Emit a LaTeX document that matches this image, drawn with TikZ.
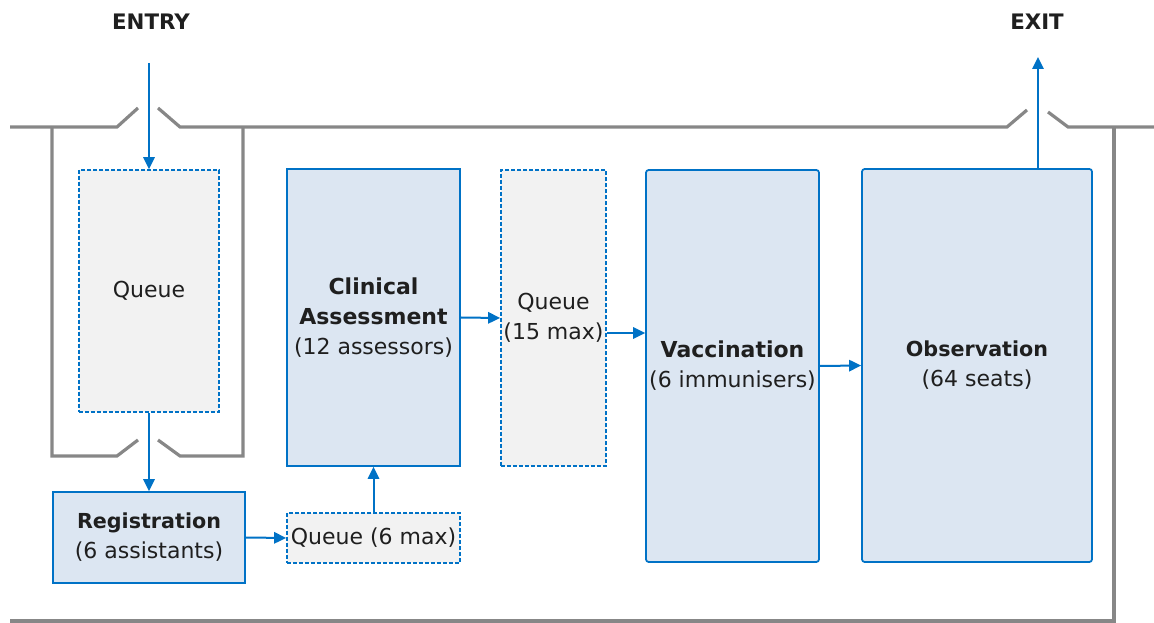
\documentclass[tikz,border=0pt]{standalone}
\usepackage{fontspec}
\setmainfont{DejaVu Sans}
\definecolor{flowblue}{RGB}{0,114,198}
\definecolor{boxfill}{RGB}{220,230,242}
\definecolor{queuefill}{RGB}{242,242,242}
\definecolor{wallgray}{RGB}{135,135,135}
\usetikzlibrary{arrows.meta,positioning}

\begin{document}
\begin{tikzpicture}[x=0.75pt,y=-0.75pt,
  room/.style={draw=flowblue,line width=1.3pt,fill=boxfill,align=center,inner sep=2pt,
              text=black!88,font=\fontsize{16.5}{22.5}\selectfont},
  queue/.style={room,fill=queuefill,dash pattern=on 3pt off 1.5pt},
  flow/.style={-{Triangle[length=9pt,width=8.5pt]},line width=1.5pt,flowblue},
  wall/.style={wallgray,line width=2.4pt},
  door/.style={font=\bfseries\fontsize{16}{18}\selectfont,text=black!88}]
  \useasboundingbox (0,0) rectangle (1154,623);

  % building outline
  \draw[wall] (10,127) -- (117,127) -- (138,108);
  \draw[wall] (158,108) -- (180,127) -- (1007,127) -- (1027,110);
  \draw[wall] (1048,112) -- (1068,127) -- (1154,127);
  \draw[wall] (1114,127) -- (1114,623);
  \draw[wall] (10,621) -- (1114,621);
  \draw[wall] (52,127) -- (52,456) -- (117,456) -- (138,440);
  \draw[wall] (158,440) -- (180,456) -- (243,456) -- (243,127);

  \node[door] (entry) at (151,22) {ENTRY};
  \node[door] (exit) at (1037,22) {EXIT};
  \coordinate (in) at (149,63);
  \coordinate (out) at (1038,57);

  \node[queue,minimum width=105pt,minimum height=181.5pt] (Q1) at (149,291) {Queue};
  \node[room,minimum width=144pt,minimum height=68.25pt] (Reg) at (149,537.5)
    {\textbf{\fontsize{15.5}{22.5}\selectfont Registration}\\(6 assistants)};
  \node[queue,minimum width=129.75pt,minimum height=37.5pt,inner sep=0pt] (Q6) at (373.5,538)
    {Queue (6 max)};
  \node[room,minimum width=129.75pt,minimum height=222.75pt] (CA) at (373.5,317.5)
    {\textbf{Clinical}\\\textbf{Assessment}\\(12 assessors)};
  \node[queue,minimum width=78.75pt,minimum height=222pt,inner sep=0pt] (Q15) at (553.5,318)
    {Queue\\(15 max)};
  \node[room,rounded corners=2pt,minimum width=129.75pt,minimum height=294pt,inner sep=0pt] (Vac) at (732.5,366)
    {\textbf{Vaccination}\\(6 immunisers)};
  \node[room,rounded corners=2pt,minimum width=172.5pt,minimum height=294.75pt] (Obs) at (977,365.5)
    {\textbf{\fontsize{15.5}{22.5}\selectfont Observation}\\(64 seats)};

  \draw[flow] (in) -- (Q1.north);
  \draw[flow] (Q1.south) -- (Reg.north);
  \draw[flow] (Reg.east) -- (Q6.west);
  \draw[flow] (Q6.north) -- (CA.south);
  \draw[flow] (CA.east) -- (Q15.west);
  \draw[flow] (Q15.east |- 0,333) -- (Vac.west |- 0,333);
  \draw[flow] (Vac.east) -- (Obs.west);
  \draw[flow] (Obs.north -| out) -- (out);
\end{tikzpicture}
\end{document}
